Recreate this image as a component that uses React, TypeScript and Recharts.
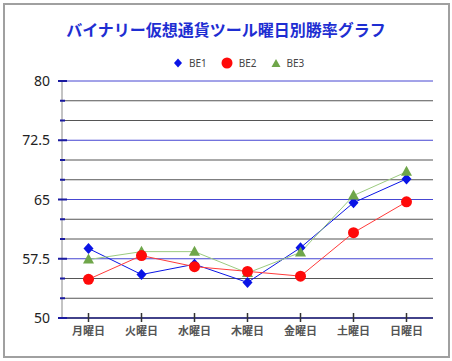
import { LineChart, Line, XAxis, YAxis, ReferenceLine, Legend } from "recharts";

const days = ["月曜日", "火曜日", "水曜日", "木曜日", "金曜日", "土曜日", "日曜日"];
const be1 = [58.8, 55.5, 56.8, 54.5, 58.9, 64.6, 67.6];
const be2 = [54.9, 57.9, 56.5, 55.9, 55.3, 60.8, 64.7];
const be3 = [57.4, 58.4, 58.4, 55.7, 58.3, 65.5, 68.5];
const yTicks = [50, 52.5, 55, 57.5, 60, 62.5, 65, 67.5, 70, 72.5, 75, 77.5, 80];
const yLabels = [50, 57.5, 65, 72.5, 80];

const data = days.map((day, i) => ({ day, BE1: be1[i], BE2: be2[i], BE3: be3[i] }));

const COLORS = {
  BE1: "#0a14e6",
  BE2: "#ff0a0a",
  BE3: "#6fa64a",
};

const Diamond = ({ cx, cy }: any) => (
  <path
    d={`M${cx},${cy - 5.5} L${cx + 5},${cy} L${cx},${cy + 5.5} L${cx - 5},${cy} Z`}
    fill={COLORS.BE1}
  />
);
const Circle = ({ cx, cy }: any) => <circle cx={cx} cy={cy} r={5.5} fill={COLORS.BE2} />;
const Triangle = ({ cx, cy }: any) => (
  <path
    d={`M${cx},${cy - 6} L${cx + 5.5},${cy + 4} L${cx - 5.5},${cy + 4} Z`}
    fill={COLORS.BE3}
  />
);

const YTick = ({ x, y, payload }: any) => {
  const major = yLabels.includes(payload.value);
  return (
    <g>
      <line
        x1={major ? x - 4 : x - 2}
        x2={major ? x + 5 : x + 3}
        y1={y}
        y2={y}
        stroke="#1a1aa0"
        strokeWidth={2}
      />
      {major && (
        <text x={x - 12} y={y} dy={5} textAnchor="end" fontSize={14} fill="#222">
          {payload.value}
        </text>
      )}
    </g>
  );
};

const XTick = ({ x, y, payload }: any) => (
  <g>
    <line x1={x} x2={x} y1={y - 5} y2={y + 4} stroke="#333" strokeWidth={1.5} />
    <text x={x} y={y} dy={17} textAnchor="middle" fontSize={11} fontWeight="bold" fill="#555">
      {payload.value}
    </text>
  </g>
);

const legendIcons: Record<string, any> = {
  BE1: (
    <svg width={10} height={10}>
      <path d="M5,0.5 L9,5 L5,9.5 L1,5 Z" fill={COLORS.BE1} />
    </svg>
  ),
  BE2: (
    <svg width={12} height={12}>
      <circle cx={6} cy={6} r={5.5} fill={COLORS.BE2} />
    </svg>
  ),
  BE3: (
    <svg width={10} height={10}>
      <path d="M5,1 L9.5,9 L0.5,9 Z" fill={COLORS.BE3} />
    </svg>
  ),
};

const renderLegend = ({ payload }: any) => (
  <div style={{ display: "flex", alignItems: "center", fontSize: 10, color: "#444" }}>
    {["BE1", "BE2", "BE3"].map((name) => {
      const item = payload.find((p: any) => p.value === name);
      return (
        <div key={name} style={{ display: "flex", alignItems: "center", marginRight: 14 }}>
          {legendIcons[item ? item.value : name]}
          <span style={{ marginLeft: 6 }}>{name}</span>
        </div>
      );
    })}
  </div>
);

export default function App() {
  return (
    <div
      style={{
        position: "absolute",
        left: 0,
        top: 0,
        width: 452,
        height: 361,
        background: "#fff",
        fontFamily: "'Noto Sans', 'Noto Sans CJK JP', sans-serif",
      }}
    >
      <div
        style={{
          position: "absolute",
          left: 3,
          top: 3,
          width: 447,
          height: 355,
          border: "2px solid #a0a0a0",
          boxSizing: "border-box",
        }}
      />
      <div
        style={{
          position: "absolute",
          top: 17,
          left: 0,
          width: 452,
          textAlign: "center",
          fontSize: 16,
          fontWeight: "bold",
          color: "#1e2ed2",
          fontFamily: "'Noto Sans CJK JP', sans-serif",
        }}
      >
        バイナリー仮想通貨ツール曜日別勝率グラフ
      </div>
      <LineChart
        width={452}
        height={361}
        data={data}
        margin={{ top: 67, right: 19, bottom: 18, left: 12 }}
        style={{ position: "absolute", left: 0, top: 0 }}
      >
        {yTicks.map((v) => (
          <ReferenceLine
            key={v}
            y={v}
            stroke={yLabels.includes(v) ? "#4646d2" : "#555"}
            strokeWidth={1}
            ifOverflow="extendDomain"
          />
        ))}
        <XAxis
          dataKey="day"
          scale="band"
          interval={0}
          height={25}
          tickSize={0}
          tickMargin={0}
          axisLine={{ stroke: "#22226a", strokeWidth: 1.5 }}
          tick={<XTick />}
        />
        <YAxis
          domain={[50, 80]}
          ticks={yTicks}
          interval={0}
          width={50}
          tickSize={0}
          tickMargin={0}
          axisLine={{ stroke: "#888" }}
          tick={<YTick />}
        />
        <Legend
          verticalAlign="top"
          content={renderLegend}
          wrapperStyle={{ top: 56, left: 173, width: "auto" }}
        />
        <Line
          dataKey="BE1"
          stroke={COLORS.BE1}
          strokeWidth={1}
          dot={<Diamond />}
          activeDot={false}
          isAnimationActive={false}
        />
        <Line
          dataKey="BE3"
          stroke="#9ccb80"
          strokeWidth={1}
          dot={<Triangle />}
          activeDot={false}
          isAnimationActive={false}
        />
        <Line
          dataKey="BE2"
          stroke="#ff3a3a"
          strokeWidth={1}
          dot={<Circle />}
          activeDot={false}
          isAnimationActive={false}
        />
      </LineChart>
    </div>
  );
}
